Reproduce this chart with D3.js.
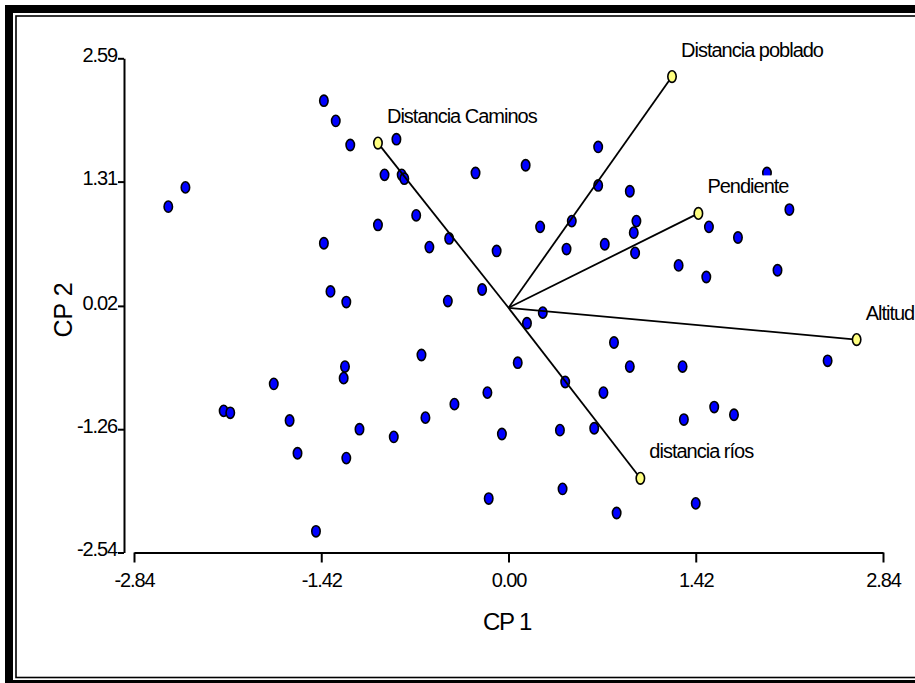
<!DOCTYPE html>
<html>
<head>
<meta charset="utf-8">
<script src="https://cdn.jsdelivr.net/npm/d3@7"></script>
<style>
  html, body { margin: 0; padding: 0; background: #fff; overflow: hidden; }
  svg { display: block; font-family: "Liberation Sans", Arial, sans-serif; }
</style>
</head>
<body>
<script>
const w = 915,
  h = 683;

// component scores (CP 1, CP 2) of the sites
const cp1 = [
  -2.58, -2.45, -1.40, -1.31, -1.20, -0.85, -0.94, -0.81, -0.79, -0.25,
  0.13, 0.68, 0.68, 0.92, -0.70, -0.99, -1.40, -0.60, -0.45, -0.09,
  0.24, 0.48, 0.44, 0.73, 0.95, 0.97, 0.96, 1.52, 1.74, 1.96,
  2.13, 1.29, 1.50, 2.04, -1.35, -1.23, -0.46, -0.20, 0.26, 0.14,
  2.42, 0.80, 0.07, 0.92, 1.32, -0.66, -1.24, -1.25, -1.78, 0.43,
  -0.16, 0.72, -0.41, -2.16, -2.11, -1.66, -1.13, -0.87, -0.63, -1.60,
  -1.23, -0.05, 0.39, 0.65, 1.33, 1.56, 1.71, -0.15, 0.41, 0.82,
  1.42, -1.46
];
const cp2 = [
  1.05, 1.25, 2.15, 1.94, 1.69, 1.75, 1.38, 1.38, 1.34, 1.40,
  1.48, 1.67, 1.27, 1.21, 0.96, 0.86, 0.67, 0.63, 0.72, 0.59,
  0.84, 0.90, 0.61, 0.66, 0.78, 0.90, 0.57, 0.84, 0.73, 1.40,
  1.02, 0.44, 0.32, 0.39, 0.17, 0.06, 0.07, 0.19, -0.05, -0.16,
  -0.55, -0.36, -0.57, -0.61, -0.61, -0.49, -0.61, -0.73, -0.79, -0.77,
  -0.88, -0.88, -1.00, -1.07, -1.09, -1.17, -1.26, -1.34, -1.14, -1.51,
  -1.56, -1.31, -1.27, -1.25, -1.16, -1.03, -1.11, -1.98, -1.88, -2.13,
  -2.03, -2.32
];

// variable vectors
const varNames = ['Distancia poblado', 'Distancia Caminos', 'Pendiente', 'Altitud', 'distancia ríos'];
const varX = [1.24, -0.99, 1.44, 2.64, 1.0];
const varY = [2.4, 1.71, 0.98, -0.33, -1.77];

const xTicks = [-2.84, -1.42, 0.0, 1.42, 2.84];
const yTicks = [2.59, 1.31, 0.02, -1.26, -2.54];

const svg = d3.select('body').append('svg').attr('width', w).attr('height', h);

svg.append('rect').attr('width', w).attr('height', h).attr('fill', '#fff');

// double frame
svg.append('rect')
  .attr('x', 9).attr('y', 9).attr('width', 1000).attr('height', 675)
  .attr('fill', 'none').attr('stroke', '#000').attr('stroke-width', 8);
svg.append('rect')
  .attr('x', 16).attr('y', 16).attr('width', 1000).attr('height', 661.5)
  .attr('fill', 'none').attr('stroke', '#000').attr('stroke-width', 1.6);

const x = d3.scaleLinear().domain([-2.84, 2.84]).range([134, 883]);
const y = d3.scaleLinear().domain([-2.54, 2.59]).range([552.5, 58.3]);

// plain hyphen for negatives, like the original
const fmt = d => d.toFixed(2);

const yAxis = svg.append('g')
  .attr('transform', 'translate(124,0)')
  .call(d3.axisLeft(y).tickValues(yTicks).tickFormat(fmt).tickSize(6).tickSizeOuter(0).tickPadding(1));

const xAxis = svg.append('g')
  .attr('transform', 'translate(0,552.5)')
  .call(d3.axisBottom(x).tickValues(xTicks).tickFormat(fmt).tickSize(10).tickSizeOuter(0).tickPadding(10));

[xAxis, yAxis].forEach(g => {
  g.select('.domain').attr('stroke-width', 2);
  g.selectAll('.tick line').attr('stroke-width', 2);
  g.selectAll('.tick text')
    .attr('font-family', '"Liberation Sans", Arial, sans-serif')
    .attr('font-size', 20)
    .attr('letter-spacing', '-1.1px')
    .attr('fill', '#000');
});
yAxis.selectAll('.tick text').attr('dy', '0.16em');

// axis titles
svg.append('text')
  .attr('x', 507).attr('y', 630)
  .attr('text-anchor', 'middle')
  .attr('font-size', 24)
  .attr('letter-spacing', '-1.2px')
  .text('CP 1');

svg.append('text')
  .attr('transform', 'translate(71.5,310) rotate(-90)')
  .attr('text-anchor', 'middle')
  .attr('font-size', 25)
  .text('CP 2');

// site scores
svg.selectAll('ellipse.site')
  .data(cp1.map((d, i) => [d, cp2[i]]))
  .enter()
  .append('ellipse')
  .attr('class', 'site')
  .attr('cx', d => x(d[0]))
  .attr('cy', d => y(d[1]))
  .attr('rx', 4.2)
  .attr('ry', 5.6)
  .attr('fill', '#0000ff')
  .attr('stroke', '#000')
  .attr('stroke-width', 1.6);

const vars = varNames.map((n, i) => ({ name: n, vx: varX[i], vy: varY[i] }));

// vectors from the origin
svg.selectAll('line.vec')
  .data(vars)
  .enter()
  .append('line')
  .attr('class', 'vec')
  .attr('x1', x(0))
  .attr('y1', y(0))
  .attr('x2', d => x(d.vx))
  .attr('y2', d => y(d.vy))
  .attr('stroke', '#000')
  .attr('stroke-width', 1.8);

svg.selectAll('ellipse.var')
  .data(vars)
  .enter()
  .append('ellipse')
  .attr('class', 'var')
  .attr('cx', d => x(d.vx))
  .attr('cy', d => y(d.vy))
  .attr('rx', 4.2)
  .attr('ry', 5.8)
  .attr('fill', '#ffff80')
  .attr('stroke', '#000')
  .attr('stroke-width', 1.6);

// labels with a white box behind them
const lab = svg.selectAll('g.lab')
  .data(vars)
  .enter()
  .append('g')
  .attr('class', 'lab');

lab.append('text')
  .attr('x', d => x(d.vx) + 9)
  .attr('y', d => y(d.vy) - 20)
  .attr('font-size', 20)
  .attr('letter-spacing', '-1px')
  .attr('fill', '#000')
  .text(d => d.name);

lab.each(function () {
  const g = d3.select(this);
  const b = g.select('text').node().getBBox();
  g.insert('rect', 'text')
    .attr('x', b.x).attr('y', b.y)
    .attr('width', b.width).attr('height', b.height)
    .attr('fill', '#fff');
});
</script>
</body>
</html>
